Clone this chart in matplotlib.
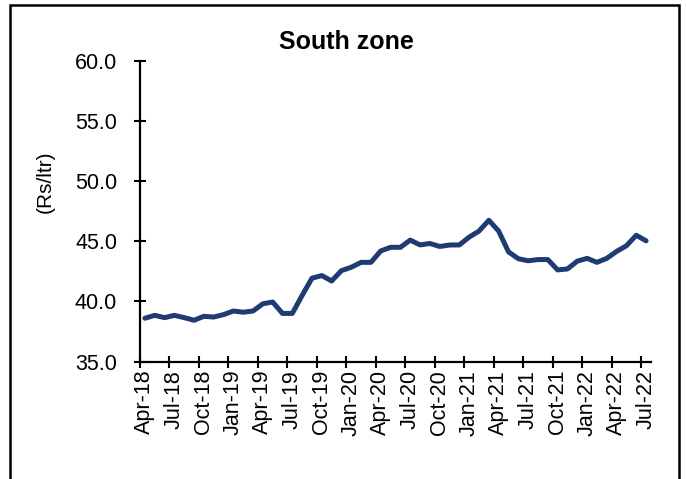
import matplotlib
matplotlib.use("Agg")
import matplotlib.pyplot as plt
from matplotlib.patches import Rectangle
import numpy as np

plt.rcParams['font.family'] = ['Liberation Sans', 'DejaVu Sans']

# monthly price, Apr-18 .. Jul-22
months = ["Apr-18", "May-18", "Jun-18", "Jul-18", "Aug-18", "Sep-18", "Oct-18", "Nov-18", "Dec-18",
          "Jan-19", "Feb-19", "Mar-19", "Apr-19", "May-19", "Jun-19", "Jul-19", "Aug-19", "Sep-19",
          "Oct-19", "Nov-19", "Dec-19", "Jan-20", "Feb-20", "Mar-20", "Apr-20", "May-20", "Jun-20",
          "Jul-20", "Aug-20", "Sep-20", "Oct-20", "Nov-20", "Dec-20", "Jan-21", "Feb-21", "Mar-21",
          "Apr-21", "May-21", "Jun-21", "Jul-21", "Aug-21", "Sep-21", "Oct-21", "Nov-21", "Dec-21",
          "Jan-22", "Feb-22", "Mar-22", "Apr-22", "May-22", "Jun-22", "Jul-22"]
price = [38.6, 38.84, 38.65, 38.84, 38.65, 38.43, 38.76, 38.7, 38.9,
         39.2, 39.1, 39.2, 39.8, 39.95, 39.0, 39.0, 40.5, 41.93,
         42.15, 41.7, 42.56, 42.84, 43.25, 43.25, 44.2, 44.5, 44.5,
         45.1, 44.7, 44.82, 44.57, 44.69, 44.7, 45.35, 45.85, 46.75,
         45.85, 44.12, 43.55, 43.38, 43.48, 43.48, 42.62, 42.7, 43.35,
         43.58, 43.25, 43.58, 44.16, 44.63, 45.5, 45.04]
yticks = [35, 40, 45, 50, 55, 60]

fig = plt.figure(figsize=(6.86, 4.79), dpi=100)
ax = fig.add_axes([140/686, 1-361.5/479, 511/686, 300.5/479])

x = np.arange(len(price))
ax.plot(x, price, color='#1F3B73', lw=3.6, solid_joinstyle='round', solid_capstyle='round')

ax.set_xlim(-0.5, len(price)-0.5)
ax.set_ylim(35, 60)

# tick marks on category boundaries, labels on category centres
ax.set_xticks(np.arange(-0.5, len(price)-1, 3), minor=True)
ax.set_xticks(x[::3])
ax.set_xticklabels(months[::3], rotation=90, fontsize=15.5)
ax.tick_params(axis='x', which='major', length=0, pad=6)
ax.tick_params(axis='x', which='minor', direction='inout', length=9, width=1.5)

ax.set_yticks(yticks)
ax.set_yticklabels([f"{v:.1f}" for v in yticks], fontsize=15.5)
ax.tick_params(axis='y', direction='inout', length=9, width=1.5, pad=12)

for s in ['top', 'right']:
    ax.spines[s].set_visible(False)
for s in ['left', 'bottom']:
    ax.spines[s].set_linewidth(1.6)

ax.set_ylabel("(Rs/ltr)", fontsize=15)
ax.yaxis.set_label_coords(-(140-55)/511, (361.5-182)/300.5)
fig.text(346/686, 1-42/479, "South zone", ha='center', va='center', fontsize=18, fontweight='bold')

fig.patches.append(Rectangle((10/686, -0.1), 669/686, 1.1-5/479, transform=fig.transFigure,
                             fill=False, edgecolor='black', lw=1.8))

fig.savefig("out.png", dpi=100)
